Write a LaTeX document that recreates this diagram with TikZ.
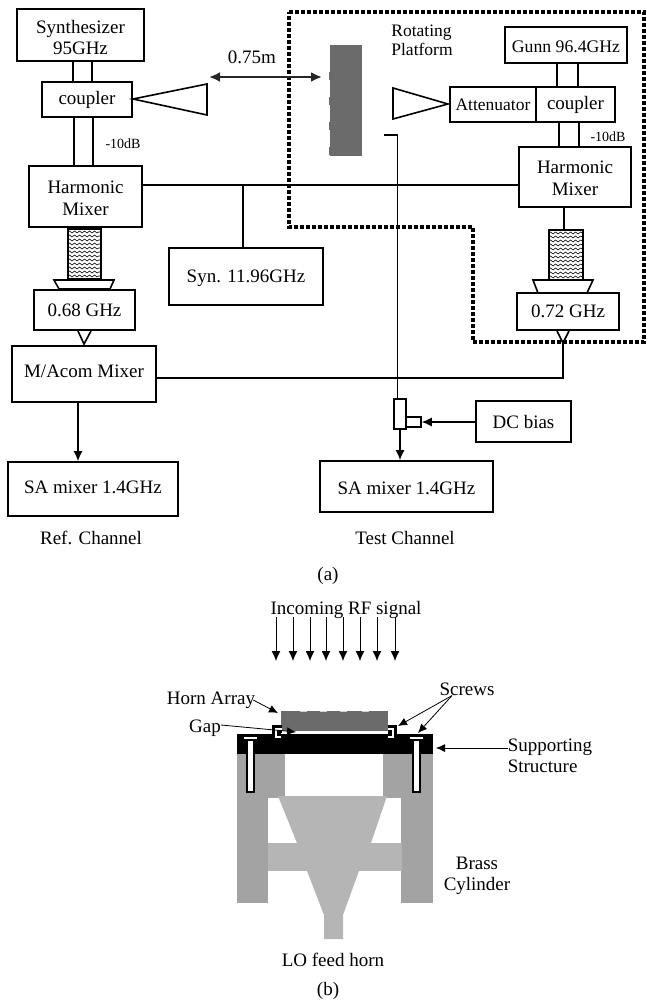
\documentclass[tikz,border=0pt]{standalone}
\usepackage{fontspec}
\setmainfont{Liberation Serif}
\usepackage{xcolor}
\usetikzlibrary{positioning,arrows.meta,calc,decorations.pathmorphing}
\definecolor{cblock}{gray}{0.42}
\definecolor{cbrass}{gray}{0.64}
\definecolor{cfeed}{gray}{0.71}
\newcommand{\dn}[1]{\rule{0pt}{#1pt}}

\begin{document}
\begin{tikzpicture}[x=1pt,y=-1pt,
 bx/.style 2 args={rectangle, draw=black, line width=1.7pt, align=center, inner sep=0pt,
 minimum width=#1pt, minimum height=#2pt, font=\fontsize{19}{21.5}\selectfont},
 lab/.style={align=center, inner sep=0pt, font=\fontsize{19}{21.5}\selectfont},
 small/.style={inner sep=0pt, font=\fontsize{14}{16}\selectfont},
 wire/.style={draw=black, line width=1.6pt},
 wirethick/.style={draw=black, line width=2.2pt},
 a/.style={-{Latex[length=10pt,width=9pt]}, draw=black, line width=1.3pt},
 aa/.style={{Latex[length=11pt,width=10pt]}-{Latex[length=11pt,width=10pt]}, draw=black!85, line width=2.2pt},
 ap/.style={-{Latex[length=9pt,width=8pt]}, draw=black, line width=.8pt},
 clipbar/.style={draw=black, line width=2.9pt, double=white, double distance=1.6pt},
 guide/.style={rectangle, draw=black, line width=1.7pt, inner sep=0pt, minimum width=#1pt,
 minimum height=50pt, path picture={
 \foreach \yy in {3,7,...,49}
 \draw[line width=.6pt, decorate, decoration={snake,amplitude=1pt,segment length=5pt}]
 ([yshift=-\yy pt]path picture bounding box.north west) -- ([yshift=-\yy pt]path picture bounding box.north east);}},
 platform/.style={draw=black, line width=3.4pt, dash pattern=on 3.6pt off 2.4pt},
]
 \useasboundingbox (0,0) rectangle (646,1003);

 % system (a)
 \node[bx={127}{52}] (SYN) at (80.5,35) {\dn{18}Synthesizer\\95GHz};
 \node[bx={90}{35}] (CPL) at (87,99.5) {\dn{15}coupler};
 \node[bx={113}{61}] (HM) at (85.5,196.5) {\dn{16}Harmonic\\Mixer};
 \node[guide=33] (WGL) at (84.5,254) {};
 \node[bx={101}{40}] (IFL) at (84.5,310) {0.68 GHz};
 \node[bx={144}{56}] (MAC) at (84,374) {M/Acom Mixer\rule[-5pt]{0pt}{5pt}};
 \node[bx={170}{54}] (SAL) at (93,489) {SA mixer 1.4GHz\rule[-4pt]{0pt}{4pt}};
 \node[lab] (REF) at (91,538) {Ref. Channel};
 \node[bx={154}{57}] (SYNB) at (246,276.5) {\dn{17}Syn. 11.96GHz};
 \node[small] (DBL) at (123,144) {-10dB};
 \node[lab] (DIST) at (252,57) {0.75m};

 \draw[platform] (289,12) -- (644,12) -- (644,342) -- (473,342) -- (473,227) -- (289,227) -- cycle;
 \node[lab, align=left, font=\fontsize{17.5}{19.5}\selectfont] (ROT) at (422,40.5) {Rotating\\Platform};
 \node[bx={122}{36}, font=\fontsize{17.7}{20}\selectfont] (GUN) at (566,45) {\dn{16}Gunn 96.4GHz};
 \node[bx={86}{35}, font=\fontsize{17.5}{20}\selectfont] (ATT) at (493,104.5) {Attenuator};
 \node[bx={79}{35}] (CPR) at (575.5,104.5) {\dn{14}coupler};
 \node[bx={112}{60}] (HMR) at (575,177) {\dn{15}Harmonic\\Mixer};
 \node[guide=34] (WGR) at (566,255) {};
 \node[bx={102}{37}] (IFR) at (568,311.5) {0.72 GHz};
 \node[small] (DBR) at (608,137) {-10dB};

 \node[rectangle, fill=cblock, inner sep=0pt, minimum width=32pt, minimum height=111pt] (ARR) at (346,100.5) {};
 \foreach \yy in {72,97,122,147}
 \fill[cblock] (328.5,\yy) rectangle (331,\yy+8);

 \node[rectangle, draw=black, line width=1.7pt, inner sep=0pt, minimum width=12pt, minimum height=30pt] (TEE) at (400,414) {};
 \node[rectangle, draw=black, line width=1.5pt, inner sep=0pt, minimum width=15pt, minimum height=10pt] (TEES) at (413.5,422) {};
 \node[bx={95}{41}] (DC) at (523.5,421.5) {DC bias};
 \node[bx={173}{51}] (SAR) at (406.5,486.5) {\dn{16}SA mixer 1.4GHz};
 \node[lab] (TST) at (405,538) {Test Channel};
 \node[lab] (CAPA) at (328,576) {(a)};

 \draw[wire] ([xshift=-7.5pt]SYN.south) -- ([xshift=-14pt]CPL.north);
 \draw[wire] ([xshift=11.5pt]SYN.south) -- ([xshift=5pt]CPL.north);
 \draw[wirethick] ([xshift=-13pt]CPL.south) -- ([xshift=-11.5pt]HM.north);
 \draw[wire] ([xshift=6pt]CPL.south) -- ([xshift=7.5pt]HM.north);
 \draw[wire] ([xshift=-9pt]GUN.south) -- ([xshift=-9pt]GUN.south |- CPR.north);
 \draw[wire] ([xshift=12pt]GUN.south) -- ([xshift=12pt]GUN.south |- CPR.north);
 \draw[wirethick] ([xshift=-16.5pt]CPR.south) -- ([xshift=-16.5pt]CPR.south |- HMR.north);
 \draw[wire] ([xshift=3.5pt]CPR.south) -- ([xshift=3.5pt]CPR.south |- HMR.north);
 \draw[wire] ([yshift=11.5pt]HM.east) -- ([yshift=-8pt]HMR.west);
 \coordinate (JN) at (243,185);
 \draw[wirethick] (JN) -- (JN |- SYNB.north);
 \draw[wire] ([xshift=-11pt]HMR.south) -- ([xshift=-2pt]WGR.north);

 % horns and tapers
 \draw[wire] (133,99) -- (207,84) -- (207,115) -- cycle;
 \draw[wire] (448,104) -- (393,88) -- (393,119) -- cycle;
 \draw[wire] (54,280) -- (114,280) -- (110,289) -- (59,289) -- cycle;
 \draw[wire] (533,280) -- (593,280) -- (587,293) -- (538,293) -- cycle;
 \draw[wire] (78,331) -- (84,344) -- (91,331);
 \draw[wire] (557,331) -- (563,343) -- (569,331);

 \coordinate (DL) at (209,77);
 \coordinate (DR) at (322,77);
 \draw[aa] (DL) -- (DR);
 \coordinate (HK) at (384,135);
 \draw[wire] (HK) -| ([xshift=-2.5pt]TEE.north);
 \draw[wirethick] ([yshift=-4pt]MAC.east) -| (563,343);
 \draw[a] ([xshift=-6pt]MAC.south) -- ([xshift=-6pt]MAC.south |- SAL.north);
 \draw[a] (TEE.south) -- (TEE.south |- SAR.north);
 \draw[a] (DC.west |- TEES.east) -- (TEES.east);

 % holder (b)
 \node[lab] (RF) at (346,610) {Incoming RF signal};
 \foreach \xx in {276,293,310,326,343,360,377,395}
 \draw[a, line width=1pt] (\xx,617) -- (\xx,661);

 \fill[cbrass] (237,754) rectangle (285,798);
 \fill[cbrass] (383,754) rectangle (433,798);
 \fill[cbrass] (237,798) rectangle (268,903);
 \fill[cbrass] (401,798) rectangle (433,903);
 \fill[cfeed] (268,843) rectangle (402,871);
 \fill[cfeed] (278,796) -- (387,796) -- (371,843) -- (359,871) -- (343,915) -- (343,939)
 -- (324,939) -- (324,915) -- (307,871) -- (297,843) -- cycle;
 \fill[black] (237,734) rectangle (433,754);
 \node[rectangle, fill=cblock, inner sep=0pt, minimum width=107pt, minimum height=20pt] (BLK) at (334.5,721) {};
 \foreach \xx in {300,320,340,362}
 \fill[white!70!cblock] (\xx,711) rectangle (\xx+7,712);

 % screws
 \foreach \xx in {250.5,416.5}{
 \draw[fill=white, line width=1.2pt] (\xx-3.5,740) rectangle (\xx+3.5,792);
 \draw[fill=white, line width=1pt] (\xx-7,736) rectangle (\xx+7,739);
 }
 % gap and clips
 \fill[white] (281,731) rectangle (389,734);
 \draw[clipbar] (282,729) -- (276,729) -- (276,737) -- (281,737);
 \draw[clipbar] (388,729) -- (393,729) -- (393,737) -- (388,737);

 \node[lab] (LHA) at (211,700) {Horn Array};
 \node[lab] (LGP) at (205,728) {Gap};
 \node[lab] (LSC) at (467,689) {Screws};
 \node[lab, align=left] (LSS) at (550,756) {Supporting\\Structure};
 \node[lab] (LBC) at (477,876) {Brass\\Cylinder};
 \node[lab] (LLO) at (333,960) {LO feed horn};
 \node[lab] (CAPB) at (328,991) {(b)};

 \coordinate (PA) at (278,713);
 \coordinate (PG) at (296,732);
 \coordinate (PS) at (398,726);
 \coordinate (PT) at (418,733);
 \coordinate (PU) at (436,748);
 \draw[ap] ([xshift=-2pt]LHA.east) -- (PA);
 \draw[ap] ([yshift=3pt]LGP.east) -- (PG);
 \draw[ap] ([xshift=-15pt]LSC.south) -- (PS);
 \draw[ap] ([xshift=-15pt]LSC.south) -- (PT);
 \draw[ap] (LSS.west |- PU) -- (PU);
\end{tikzpicture}
\end{document}
